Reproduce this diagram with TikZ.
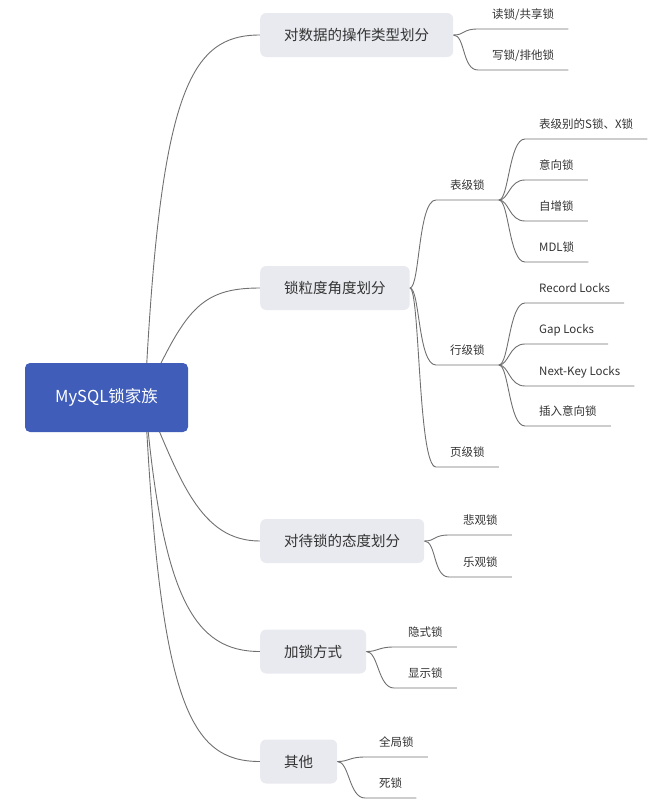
\documentclass[tikz,border=0pt]{standalone}
\usepackage{fontspec}
\setmainfont{Noto Sans CJK SC}
\usetikzlibrary{positioning, backgrounds}

\definecolor{rootblue}{HTML}{3F5DB9}
\definecolor{topicgrey}{HTML}{E9EAEF}
\definecolor{linegrey}{HTML}{707070}
\definecolor{textgrey}{HTML}{333333}

\begin{document}
\begin{tikzpicture}[x=1pt, y=-1pt,
    root/.style={fill=rootblue, text=white, rounded corners=5pt, minimum width=163pt, minimum height=69pt, font=\fontsize{16.5}{18}\selectfont},
    topic/.style={fill=topicgrey, text=textgrey, rounded corners=6pt, anchor=west, inner xsep=24pt, minimum height=44pt, font=\fontsize{14.5}{17}\selectfont},
    leaf/.style={anchor=south west, inner xsep=14pt, inner ysep=0pt, text height=9pt, text depth=3pt, minimum height=26pt, text=textgrey, font=\fontsize{11.5}{13}\selectfont},
    edge/.style={draw=linegrey, line width=0.9pt}]
        \useasboundingbox (0,0) rectangle (655,811);

        % root and main topics
        \node[root] (root) at (106.5,397.5) {MySQL锁家族};
        \coordinate (hub) at (145,397);
        \node[topic] (ops) at (260,35) {对数据的操作类型划分};
        \node[topic] (gran) at (260,288) {锁粒度角度划分};
        \node[topic] (attitude) at (260,541) {对待锁的态度划分};
        \node[topic] (way) at (260,651.5) {加锁方式};
        \node[topic] (other) at (260,761.5) {其他};

        % subtopics
        \node[leaf] (readlk) at (478,29) {读锁/共享锁};
        \node[leaf] (writelk) at (478,70) {写锁/排他锁};
        \node[leaf] (tablelk) at (436,200) {表级锁};
        \node[leaf] (rowlk) at (436,365) {行级锁};
        \node[leaf] (pagelk) at (436,467) {页级锁};
        \node[leaf] (tsx) at (525,139) {表级别的S锁、X锁};
        \node[leaf] (intent) at (525,180) {意向锁};
        \node[leaf] (autoinc) at (525,221) {自增锁};
        \node[leaf] (mdl) at (525,262) {MDL锁};
        \node[leaf] (record) at (525,303) {Record Locks};
        \node[leaf] (gap) at (525,344) {Gap Locks};
        \node[leaf] (nextkey) at (525,386) {Next-Key Locks};
        \node[leaf] (insintent) at (525,426) {插入意向锁};
        \node[leaf] (pessim) at (449,535) {悲观锁};
        \node[leaf] (optim) at (449,577) {乐观锁};
        \node[leaf] (implicit) at (394,647) {隐式锁};
        \node[leaf] (explicit) at (394,688) {显示锁};
        \node[leaf] (globallk) at (365,757) {全局锁};
        \node[leaf] (deadlk) at (365,798) {死锁};

        \begin{scope}[on background layer]
            \draw[edge] (hub) .. controls +(15,-307) and +(-70,0) .. (ops.west);
            \draw[edge] (hub) .. controls +(40,-87) and +(-60,0) .. (gran.west);
            \draw[edge] (hub) .. controls +(35,83) and +(-60,0) .. (attitude.west);
            \draw[edge] (hub) .. controls +(17,203) and +(-65,0) .. (way.west);
            \draw[edge] (hub) .. controls +(15,308) and +(-70,0) .. (other.west);
        \end{scope}

        \draw[edge] (ops.east) .. controls +(12,0) and +(-16,0) .. (readlk.south west) -- (readlk.south east);
        \draw[edge] (ops.east) .. controls +(12,0) and +(-16,0) .. (writelk.south west) -- (writelk.south east);
        \draw[edge] (gran.east) .. controls +(10,0) and +(-18,0) .. (tablelk.south west) -- (tablelk.south east);
        \draw[edge] (gran.east) .. controls +(10,0) and +(-18,0) .. (rowlk.south west) -- (rowlk.south east);
        \draw[edge] (gran.east) .. controls +(10,0) and +(-18,0) .. (pagelk.south west) -- (pagelk.south east);
        \draw[edge] (tablelk.south east) .. controls +(10,0) and +(-16,0) .. (tsx.south west) -- (tsx.south east);
        \draw[edge] (tablelk.south east) .. controls +(10,0) and +(-16,0) .. (intent.south west) -- (intent.south east);
        \draw[edge] (tablelk.south east) .. controls +(10,0) and +(-16,0) .. (autoinc.south west) -- (autoinc.south east);
        \draw[edge] (tablelk.south east) .. controls +(10,0) and +(-16,0) .. (mdl.south west) -- (mdl.south east);
        \draw[edge] (rowlk.south east) .. controls +(10,0) and +(-16,0) .. (record.south west) -- (record.south east);
        \draw[edge] (rowlk.south east) .. controls +(10,0) and +(-16,0) .. (gap.south west) -- (gap.south east);
        \draw[edge] (rowlk.south east) .. controls +(10,0) and +(-16,0) .. (nextkey.south west) -- (nextkey.south east);
        \draw[edge] (rowlk.south east) .. controls +(10,0) and +(-16,0) .. (insintent.south west) -- (insintent.south east);
        \draw[edge] (attitude.east) .. controls +(12,0) and +(-16,0) .. (pessim.south west) -- (pessim.south east);
        \draw[edge] (attitude.east) .. controls +(12,0) and +(-16,0) .. (optim.south west) -- (optim.south east);
        \draw[edge] (way.east) .. controls +(12,0) and +(-16,0) .. (implicit.south west) -- (implicit.south east);
        \draw[edge] (way.east) .. controls +(12,0) and +(-16,0) .. (explicit.south west) -- (explicit.south east);
        \draw[edge] (other.east) .. controls +(12,0) and +(-16,0) .. (globallk.south west) -- (globallk.south east);
        \draw[edge] (other.east) .. controls +(12,0) and +(-16,0) .. (deadlk.south west) -- (deadlk.south east);
    \end{tikzpicture}
\end{document}
